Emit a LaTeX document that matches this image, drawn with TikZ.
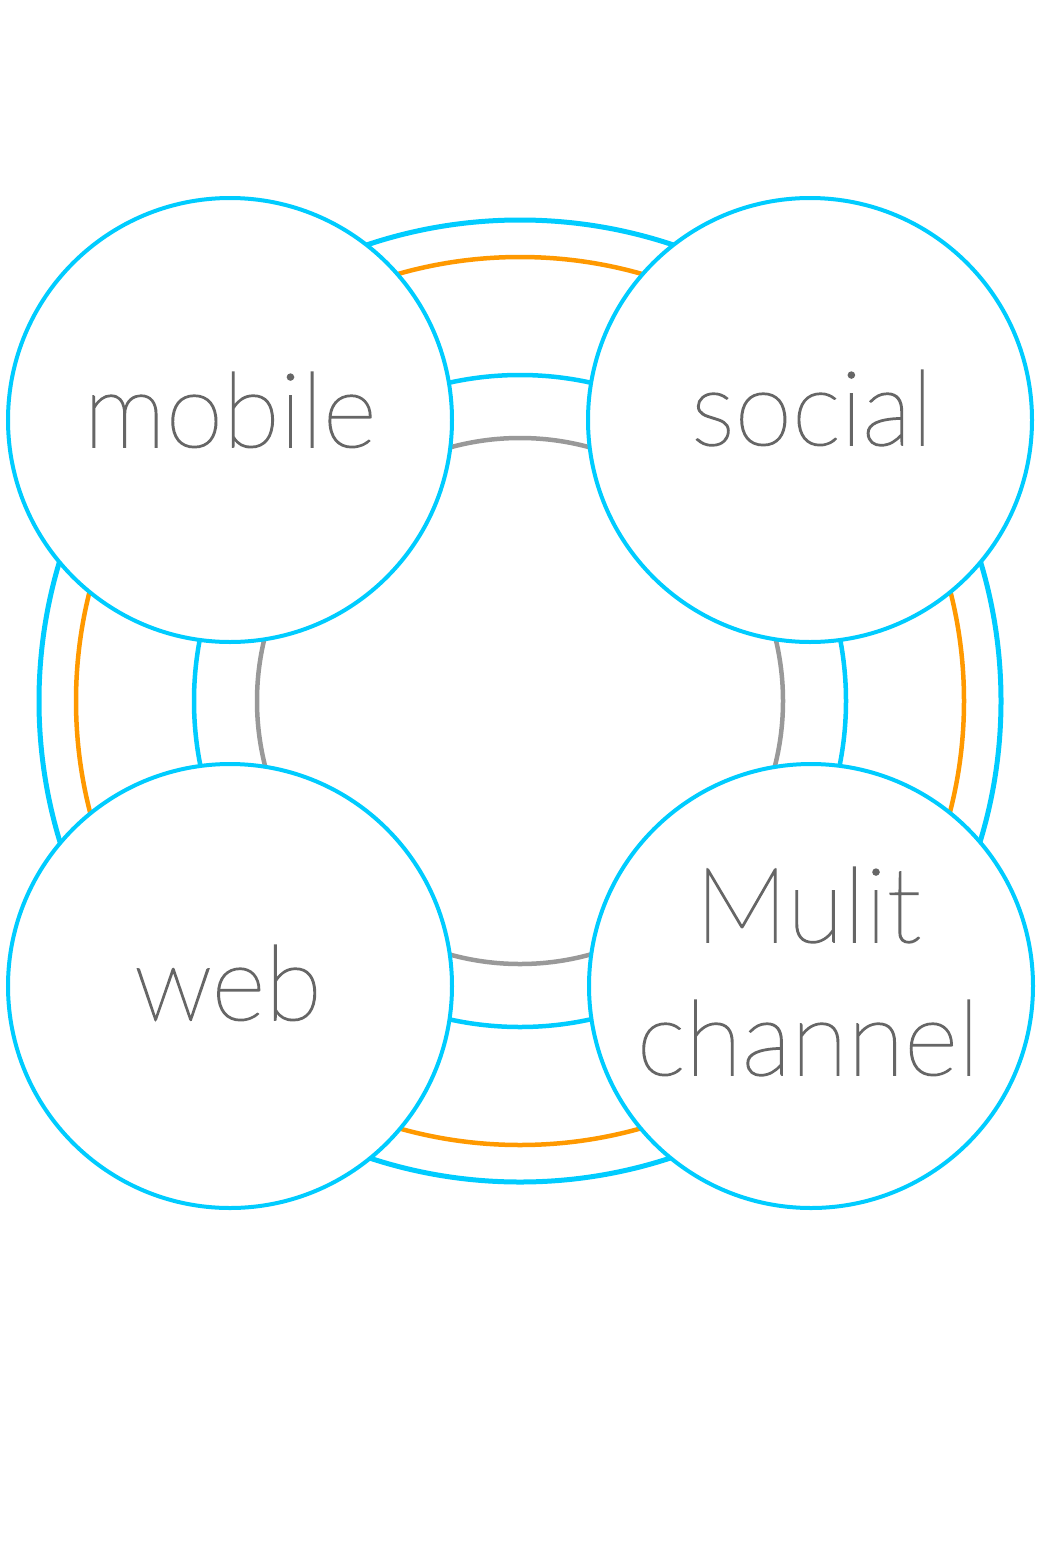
\documentclass[tikz,border=0pt]{standalone}
\usepackage{fontspec}
\newfontfamily\labelfont{Lato Hairline}[FakeBold=1.6]
\definecolor{ringblue}{HTML}{00CCFF}
\definecolor{ringorange}{HTML}{FF9900}
\definecolor{ringgray}{HTML}{999999}
\definecolor{labelgray}{HTML}{666666}
\begin{document}
\begin{tikzpicture}[x=0.75pt,y=-0.75pt,
  ring/.style={line width=#1*0.75pt},
  bubble/.style={circle, draw=ringblue, fill=white, line width=3pt,
    minimum size=444*0.75pt, inner sep=0pt},
  caption/.style={anchor=base, text=labelgray, inner sep=0pt,
    font=\labelfont\fontsize{78}{94}\selectfont}]
  \useasboundingbox (0,0) rectangle (1038,1563);
  % concentric rings behind the bubbles
  \coordinate (hub) at (520,701);
  \draw[ringblue, ring=5] (hub) circle[radius=481];
  \draw[ringorange, ring=4.5] (hub) circle[radius=444];
  \draw[ringblue, ring=4.5] (hub) circle[radius=326];
  \draw[ringgray, ring=4.5] (hub) circle[radius=263];
  % the four bubbles
  \node[bubble] (mobile) at (230,420) {};
  \node[bubble] (social) at (810,420) {};
  \node[bubble] (web) at (230,986) {};
  \node[bubble] (multi) at (811,986) {};
  % labels
  \node[caption] (tmobile) at (230,447) {mobile};
  \node[caption] (tsocial) at (812,445) {social};
  \node[caption] (tweb) at (228,1020) {web};
  \node[caption] (tmulit) at (808,942) {Mulit};
  \node[caption] (tchannel) at (808,1075) {channel};
\end{tikzpicture}
\end{document}
